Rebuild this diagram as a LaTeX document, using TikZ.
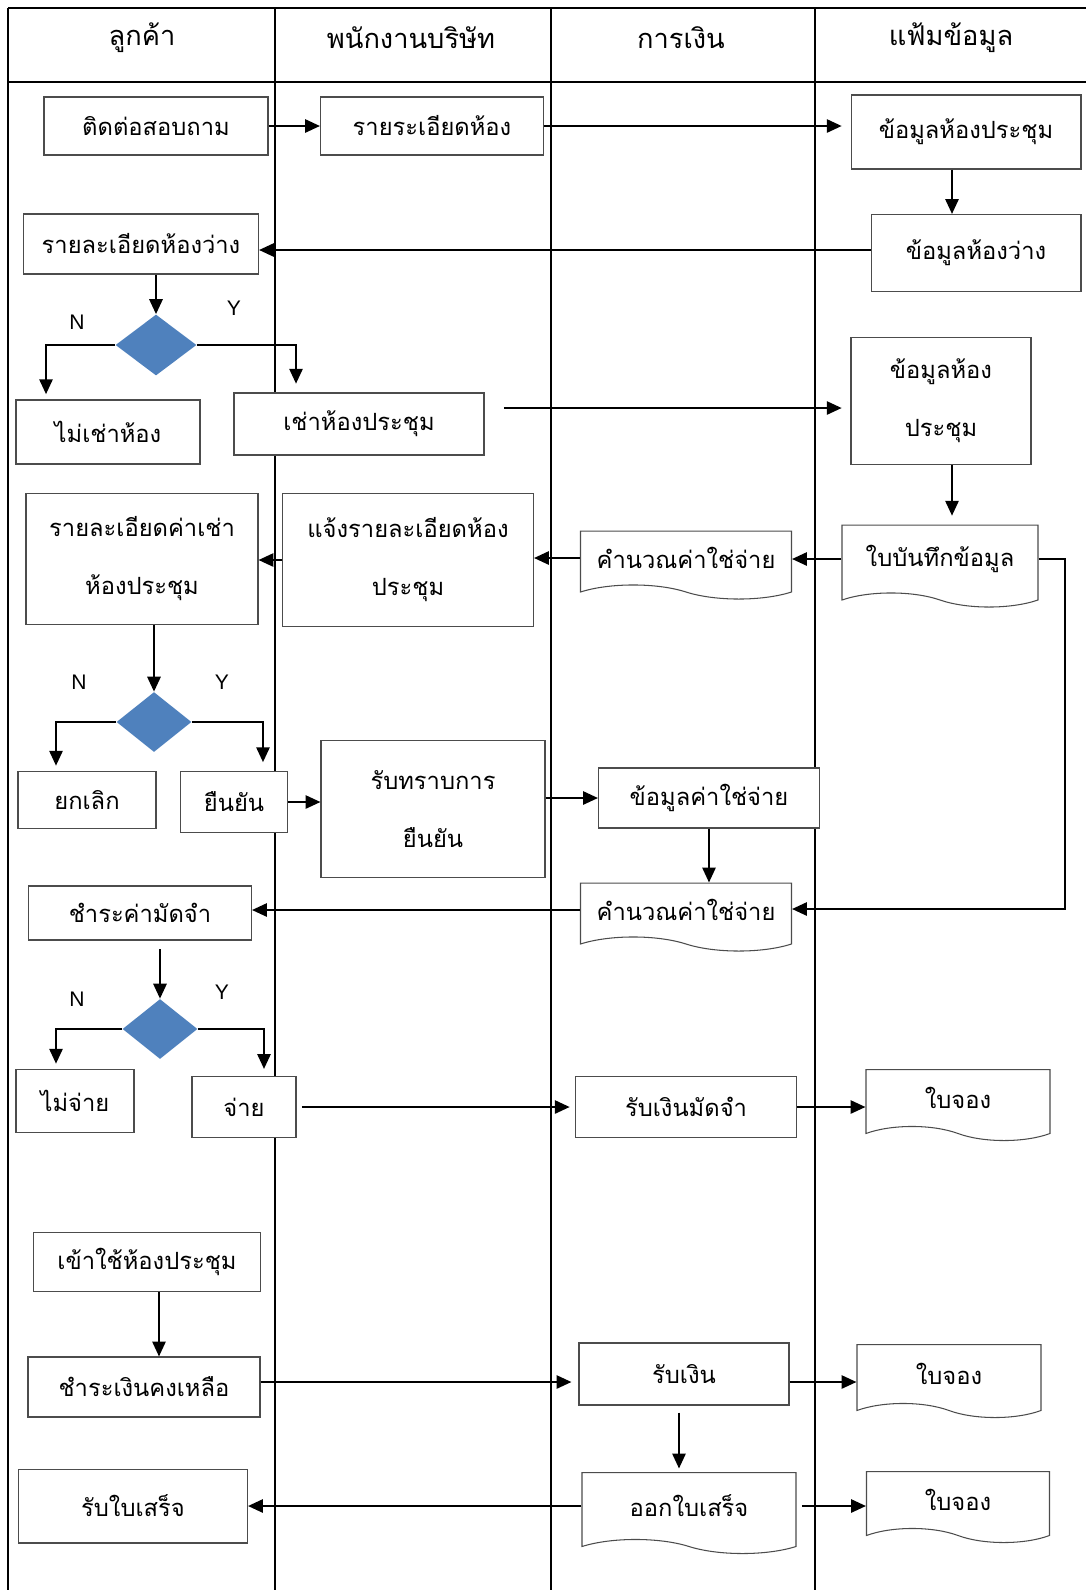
\documentclass[tikz,border=0pt]{standalone}
\usepackage{fontspec}
\setsansfont{Liberation Sans}
\newfontfamily\thaifont[Script=Thai]{Loma}
\usetikzlibrary{shapes.geometric, shapes.symbols, arrows.meta, positioning, calc}
\definecolor{decisionblue}{HTML}{4F81BD}

\begin{document}
\begin{tikzpicture}[
    x=0.02cm, y=-0.02cm,
    lane/.style={line width=1.2pt},
    head/.style={font=\thaifont\fontsize{15.5}{18}\selectfont},
    task/.style={rectangle, draw=black!70, fill=white, line width=0.6pt,
                 inner sep=2pt, align=center,
                 font=\thaifont\fontsize{13.5}{16}\selectfont},
    tall/.style={task, font=\thaifont\fontsize{13.5}{33}\selectfont},
    doc/.style={tape, tape bend top=none, tape bend bottom=out and in,
                tape bend height=8pt, draw=black!70, fill=white,
                line width=0.6pt, inner sep=2pt, align=center,
                font=\thaifont\fontsize{13.5}{16}\selectfont},
    decision/.style={diamond, fill=decisionblue, draw=none, inner sep=0pt},
    yn/.style={font=\sffamily\fontsize{12}{14}\selectfont},
    arrow/.style={-{Triangle[length=8.5pt,width=7.5pt]}, line width=1.3pt}
]
\useasboundingbox (0,0) rectangle (1086,1590);

% Swimlanes
\draw[lane] (8,8) -- (1086,8);
\draw[lane] (8,82) -- (1086,82);
\draw[lane] (8,8) -- (8,1590);
\foreach \x in {275,551,815}
    \draw[lane] (\x,8) -- (\x,1590);

\node[head] (hcustomer) at (142,38) {ลูกค้า};
\node[head] (hstaff) at (411,38) {พนักงานบริษัท};
\node[head] (hfinance) at (681,38) {การเงิน};
\node[head] (hfile) at (951,38) {แฟ้มข้อมูล};

% Enquiry
\node[task, minimum width=4.48cm, minimum height=1.16cm] (ask) at (156,126) {ติดต่อสอบถาม};
\node[task, minimum width=4.46cm, minimum height=1.16cm] (detail) at (432,126) {รายระเอียดห้อง};
\node[task, minimum width=4.6cm, minimum height=1.48cm] (roomdata) at (966,132) {ข้อมูลห้องประชุม};
\node[task, minimum width=4.2cm, minimum height=1.54cm] (freedata) at (976,253) {ข้อมูลห้องว่าง};
\node[task, minimum width=4.7cm, minimum height=1.2cm] (freedetail) at (141,244) {รายละเอียดห้องว่าง};

% Rent decision
\node[decision, minimum width=1.62cm, minimum height=1.22cm] (rentq) at (156,345) {};
\node[yn] (rentn) at (77,322) {N};
\node[yn] (renty) at (234,308) {Y};
\node[task, minimum width=3.68cm, minimum height=1.28cm] (norent) at (108,432) {ไม่เช่าห้อง};
\node[task, minimum width=5cm, minimum height=1.24cm] (rent) at (359,424) {เช่าห้องประชุม};
\node[tall, minimum width=3.6cm, minimum height=2.54cm] (roomfile) at (941,401) {ข้อมูลห้อง\\ประชุม};

% Costs
\node[doc, minimum width=3.92cm, minimum height=1.64cm] (record) at (940,559) {ใบบันทึกข้อมูล};
\node[doc, minimum width=4.22cm, minimum height=1.36cm] (calcone) at (686,558) {คำนวณค่าใช่จ่าย};
\node[tall, minimum width=5.02cm, minimum height=2.66cm] (notify) at (408,560) {แจ้งรายละเอียดห้อง\\ประชุม};
\node[tall, minimum width=4.64cm, minimum height=2.62cm] (rentcost) at (142,559) {รายละเอียดค่าเช่า\\ห้องประชุม};

% Confirm decision
\node[decision, minimum width=1.5cm, minimum height=1.2cm] (confirmq) at (154,722) {};
\node[yn] (confirmn) at (79,682) {N};
\node[yn] (confirmy) at (222,682) {Y};
\node[task, minimum width=2.76cm, minimum height=1.14cm] (cancel) at (87,800) {ยกเลิก};
\node[task, minimum width=2.14cm, minimum height=1.22cm] (confirm) at (234,802) {ยืนยัน};
\node[tall, minimum width=4.48cm, minimum height=2.74cm] (ack) at (433,809) {รับทราบการ\\ยืนยัน};
\node[task, minimum width=4.42cm, minimum height=1.2cm] (costdata) at (709,798) {ข้อมูลค่าใช่จ่าย};
\node[doc, minimum width=4.22cm, minimum height=1.36cm] (calctwo) at (686,910) {คำนวณค่าใช่จ่าย};
\node[task, minimum width=4.46cm, minimum height=1.08cm] (deposit) at (140,913) {ชำระค่ามัดจำ};

% Pay decision
\node[decision, minimum width=1.5cm, minimum height=1.2cm] (payq) at (160,1029) {};
\node[yn] (payn) at (77,999) {N};
\node[yn] (payy) at (222,992) {Y};
\node[task, minimum width=2.36cm, minimum height=1.26cm] (nopay) at (75,1101) {ไม่จ่าย};
\node[task, minimum width=2.08cm, minimum height=1.22cm] (pay) at (244,1107) {จ่าย};
\node[task, minimum width=4.42cm, minimum height=1.22cm] (getdeposit) at (686,1107) {รับเงินมัดจำ};
\node[doc, minimum width=3.68cm, minimum height=1.42cm] (slipone) at (958,1098) {ใบจอง};

% Use of room
\node[task, minimum width=4.54cm, minimum height=1.18cm] (useroom) at (147,1262) {เข้าใช้ห้องประชุม};
\node[task, minimum width=4.64cm, minimum height=1.2cm] (balance) at (144,1387) {ชำระเงินคงเหลือ};
\node[task, minimum width=4.2cm, minimum height=1.24cm] (getmoney) at (684,1374) {รับเงิน};
\node[doc, minimum width=3.68cm, minimum height=1.46cm] (sliptwo) at (949,1374) {ใบจอง};
\node[doc, minimum width=4.28cm, minimum height=1.62cm] (receipt) at (689,1506) {ออกใบเสร็จ};
\node[doc, minimum width=3.66cm, minimum height=1.42cm] (slipthree) at (958,1500) {ใบจอง};
\node[task, minimum width=4.58cm, minimum height=1.48cm] (getreceipt) at (133,1506) {รับใบเสร็จ};

% Arrows
\draw[arrow] (ask.east) -- (detail.west);
\draw[arrow, shorten >=5pt] (detail.east) -- (detail.east -| roomdata.west);
\draw[arrow] ([xshift=-0.28cm]roomdata.south) -- ([xshift=-0.28cm]roomdata.south |- freedata.north);
\draw[arrow] ([yshift=0.06cm]freedata.west) -- ([yshift=0.06cm]freedata.west -| freedetail.east);
\draw[arrow] (rentq.north |- freedetail.south) -- (rentq.north);
\draw[arrow, shorten >=3pt] (rentq.west) -| ([xshift=-1.24cm]norent.north);
\draw[arrow, shorten >=5pt] (rentq.east) -| ([xshift=-1.26cm]rent.north);
\draw[arrow, shorten <=11pt, shorten >=5pt] ([yshift=0.32cm]rent.east) -- ([yshift=0.32cm]rent.east -| roomfile.west);
\draw[arrow, shorten >=5pt] ([xshift=0.22cm]roomfile.south) -- ([xshift=0.22cm]roomfile.south |- record.north);
\draw[arrow] (record.west) -- (record.west -| calcone.east);
\draw[arrow] (calcone.west) -- (calcone.west -| notify.east);
\draw[arrow] (notify.west) -- (notify.west -| rentcost.east);
\coordinate (loop) at (1065,909);
\draw[arrow] (record.east) -| (loop) -- (loop -| calctwo.east);
\draw[arrow] (confirmq.north |- rentcost.south) -- (confirmq.north);
\draw[arrow, shorten >=3pt] (confirmq.west) -| ([xshift=-0.62cm]cancel.north);
\draw[arrow, shorten >=5pt] (confirmq.east) -| ([xshift=0.58cm]confirm.north);
\draw[arrow] (confirm.east) -- (confirm.east -| ack.west);
\draw[arrow] (costdata.west -| ack.east) -- (costdata.west);
\draw[arrow] (costdata.south) -- (costdata.south |- calctwo.north);
\draw[arrow] (calctwo.west) -- (calctwo.west -| deposit.east);
\draw[arrow, shorten <=5pt] (payq.north |- deposit.south) -- (payq.north);
\draw[arrow, shorten >=3pt] (payq.west) -| ([xshift=-0.38cm]nopay.north);
\draw[arrow, shorten >=4pt] (payq.east) -| ([xshift=0.4cm]pay.north);
\draw[arrow, shorten <=3pt, shorten >=3pt] (pay.east) -- (pay.east -| getdeposit.west);
\draw[arrow] (getdeposit.east) -- (getdeposit.east -| slipone.west);
\draw[arrow] ([xshift=0.24cm]useroom.south) -- ([xshift=0.24cm]useroom.south |- balance.north);
\draw[arrow, shorten >=4pt] ([yshift=0.1cm]balance.east) -- ([yshift=0.1cm]balance.east -| getmoney.west);
\draw[arrow] ([yshift=-0.16cm]getmoney.east) -- ([yshift=-0.16cm]getmoney.east -| sliptwo.west);
\draw[arrow, shorten <=4pt, shorten >=2pt] ([xshift=-0.1cm]getmoney.south) -- ([xshift=-0.1cm]getmoney.south |- receipt.north);
\draw[arrow] (receipt.west) -- (receipt.west -| getreceipt.east);
\draw[arrow, shorten <=3pt] (receipt.east) -- (receipt.east -| slipthree.west);

\end{tikzpicture}
\end{document}
